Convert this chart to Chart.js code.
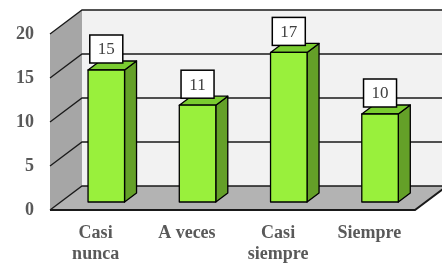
<!DOCTYPE html>
<html><head><meta charset="utf-8">
<script src="https://cdn.jsdelivr.net/npm/chart.js@4/dist/chart.umd.min.js"></script>
<style>html,body{margin:0;padding:0;background:#fff}canvas{display:block}</style>
</head><body>
<canvas id="c" width="442" height="267"></canvas>
<script>
const categories = [['Casi','nunca'], 'A veces', ['Casi','siempre'], 'Siempre'];
const values = [15, 11, 17, 10];
const yTicks = [0, 5, 10, 15, 20];

const DEPTH = {x: 32, y: -24};      // depth of the 3D box (front plane to back wall)
const BAR_FRONT = 1/3;              // bar front face position within depth
const BAR_DEPTH = 0.375;            // bar depth fraction

const threeD = {
  id: 'threeD',
  beforeDatasetsDraw(chart) {
    const ctx = chart.ctx, ys = chart.scales.y, a = chart.chartArea;
    const xL = a.left, xR = a.right;
    const y0 = ys.getPixelForValue(0), yT = ys.getPixelForValue(yTicks[yTicks.length-1]);
    const dx = DEPTH.x, dy = DEPTH.y;
    ctx.save();
    ctx.beginPath();
    ctx.moveTo(xL, yT); ctx.lineTo(xL+dx, yT+dy); ctx.lineTo(xL+dx, y0+dy); ctx.lineTo(xL, y0); ctx.closePath();
    ctx.fillStyle = '#a6a6a6'; ctx.fill();
    ctx.fillStyle = '#f2f2f2';
    ctx.fillRect(xL+dx, yT+dy, xR-xL, y0-yT);
    ctx.beginPath();
    ctx.moveTo(xL, y0); ctx.lineTo(xR, y0); ctx.lineTo(xR+dx, y0+dy); ctx.lineTo(xL+dx, y0+dy); ctx.closePath();
    ctx.fillStyle = '#b3b3b3'; ctx.fill();
    ctx.strokeStyle = '#1a1a1a'; ctx.lineWidth = 1.3;
    yTicks.forEach(v => {
      const yy = ys.getPixelForValue(v);
      ctx.beginPath();
      ctx.moveTo(xL, yy); ctx.lineTo(xL+dx, yy+dy); ctx.lineTo(xR+dx, yy+dy);
      ctx.stroke();
    });
    ctx.lineWidth = 2;
    ctx.beginPath();
    ctx.moveTo(xL, y0); ctx.lineTo(xR, y0); ctx.lineTo(xR+dx, y0+dy);
    ctx.stroke();
    const meta = chart.getDatasetMeta(0);
    const ox = dx*BAR_FRONT, oy = dy*BAR_FRONT, bx = dx*BAR_DEPTH, by = dy*BAR_DEPTH;
    ctx.lineWidth = 1.3; ctx.strokeStyle = '#000'; ctx.lineJoin = 'round';
    meta.data.forEach(el => {
      const p = el.getProps(['x','y','base','width'], true);
      const l = p.x - p.width/2 + ox, r = p.x + p.width/2 + ox, t = p.y + oy, b = p.base + oy;
      ctx.beginPath();
      ctx.moveTo(r, t); ctx.lineTo(r+bx, t+by); ctx.lineTo(r+bx, b+by); ctx.lineTo(r, b); ctx.closePath();
      ctx.fillStyle = '#64a028'; ctx.fill(); ctx.stroke();
      ctx.beginPath();
      ctx.moveTo(l, t); ctx.lineTo(l+bx, t+by); ctx.lineTo(r+bx, t+by); ctx.lineTo(r, t); ctx.closePath();
      ctx.fillStyle = '#7acc30'; ctx.fill(); ctx.stroke();
      ctx.beginPath(); ctx.rect(l, t, r-l, b-t);
      ctx.fillStyle = '#99f03c'; ctx.fill(); ctx.stroke();
    });
    ctx.restore();
  },
  afterDatasetsDraw(chart) {
    const ctx = chart.ctx, meta = chart.getDatasetMeta(0);
    const ox = DEPTH.x*BAR_FRONT, oy = DEPTH.y*BAR_FRONT;
    ctx.save();
    ctx.font = '17px "Liberation Serif", serif';
    ctx.textAlign = 'center'; ctx.textBaseline = 'middle';
    meta.data.forEach((el, i) => {
      const p = el.getProps(['x','y'], true);
      const cx = p.x + ox, bottom = p.y + oy - 7;
      const w = 33, h = 28;
      ctx.fillStyle = '#fff'; ctx.fillRect(cx - w/2, bottom - h, w, h);
      ctx.strokeStyle = '#000'; ctx.lineWidth = 1.5; ctx.strokeRect(cx - w/2, bottom - h, w, h);
      ctx.fillStyle = '#404040';
      ctx.fillText(String(values[i]), cx, bottom - h/2 + 1);
    });
    ctx.restore();
  }
};

new Chart(document.getElementById('c'), {
  type: 'bar',
  data: {
    labels: categories,
    datasets: [{
      data: values,
      backgroundColor: 'rgba(0,0,0,0)',
      borderWidth: 0,
      barPercentage: 0.8,
      categoryPercentage: 0.5
    }]
  },
  options: {
    responsive: false,
    animation: false,
    devicePixelRatio: 1,
    layout: {padding: {top: 34, right: 27, left: 0, bottom: 0}},
    plugins: {legend: {display: false}, tooltip: {enabled: false}},
    scales: {
      y: {
        min: yTicks[0], max: yTicks[yTicks.length-1],
        afterBuildTicks: s => { s.ticks = yTicks.map(v => ({value: v})); },
        ticks: {color: '#595959', padding: 16, font: {family: '"Liberation Serif", serif', size: 18, weight: 'bold'}},
        grid: {display: false, drawTicks: false},
        border: {display: false},
        afterFit: s => { s.width = 50; }
      },
      x: {
        ticks: {color: '#595959', padding: 13, maxRotation: 0, autoSkip: false,
          font: {family: '"Liberation Serif", serif', size: 18, weight: 'bold', lineHeight: 1.17}},
        grid: {display: false, drawTicks: false},
        border: {display: false},
        afterFit: s => { s.height = 57; }
      }
    }
  },
  plugins: [threeD]
});
</script>
</body></html>
